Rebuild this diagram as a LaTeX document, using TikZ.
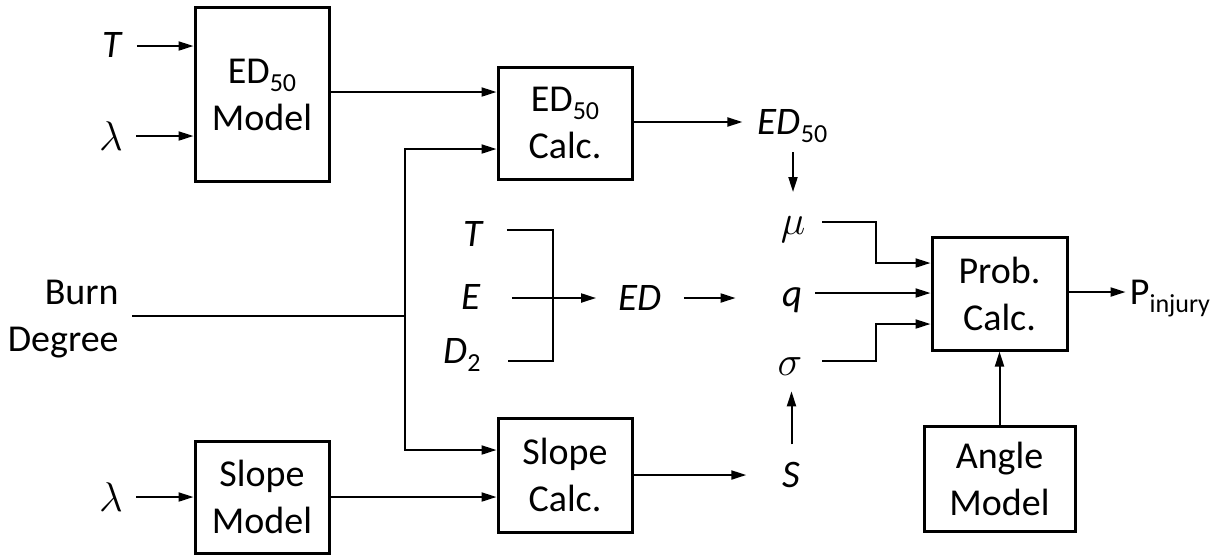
\documentclass[tikz,border=0pt]{standalone}
\usepackage{fontspec}
\setmainfont{Carlito}
\usetikzlibrary{arrows.meta,calc}
\newcommand\mysub[1]{\raisebox{-4pt}{\fontsize{13}{15}\selectfont #1}}
\begin{document}
\begin{tikzpicture}[x=0.5pt,y=-0.5pt,
  font=\fontsize{19}{23.5}\selectfont,
  blk/.style={draw,line width=1.5pt,align=center,inner sep=0pt},
  lbl/.style={inner sep=0pt},
  grk/.style={inner sep=0pt,font=\fontsize{20}{24}\selectfont},
  var/.style={inner sep=0pt,font=\fontsize{19.5}{23.5}\selectfont\itshape},
  ln/.style={line width=1pt},
  arr/.style={line width=1pt,-{Triangle[length=7.5pt,width=4.5pt]}}]
\useasboundingbox (0,0) rectangle (1220,554);

% boxes
\node[blk,minimum width=67pt,minimum height=87pt] (em) at (262,94.5) {ED\mysub{50}\\Model};
\node[blk,minimum width=67pt,minimum height=56pt] (ec) at (565,123) {ED\mysub{50}\\Calc.};
\node[blk,minimum width=67pt,minimum height=56pt] (sm) at (262,497) {Slope\\Model};
\node[blk,minimum width=67pt,minimum height=57pt] (sc) at (565,475) {Slope\\Calc.};
\node[blk,minimum width=67.5pt,minimum height=56.5pt] (pc) at (999.5,293.5) {Prob.\\Calc.};
\node[blk,minimum width=75.5pt,minimum height=52.5pt] (am) at (999.5,478.5) {Angle\\Model};

% labels
\node[var] (T1) at (112,45) {T};
\node[grk] (L1) at (111,136) {$\lambda$};
\node[grk] (L2) at (111,497) {$\lambda$};
\node[lbl,align=right,anchor=east] (bd) at (119,319) {Burn\\Degree};
\node[var] (T2) at (473,233.5) {T};
\node[var] (E) at (471,297) {E};
\node[var] (D2) at (462,355) {D\mysub{\upshape 2}};
\node[var] (ED) at (640,298) {ED};
\node[var] (ED50) at (792.5,126) {ED\mysub{\upshape 50}};
\node[grk] (mu) at (793,230) {$\mu$};
\node[var] (q) at (793,300) {q};
\node[grk] (sg) at (790,367) {$\sigma$};
\node[var] (S) at (791.5,474.5) {S};
\node[lbl] (P) at (1170,299) {P\mysub{injury}};

% coordinates
\coordinate (j) at (405,316);
\coordinate (e1) at (ec.west |- 0,92);
\coordinate (e2) at (ec.west |- 0,149);
\coordinate (s1) at (sc.west |- 0,450);
\coordinate (bk) at (553,298);
\coordinate (kn) at ($(pc.west)+(-55,0)$);
\coordinate (p1) at (pc.west |- 0,263);
\coordinate (p3) at (pc.west |- 0,324);

% connectors
\draw[arr] ($(T1.east |- 0,46)+(15,0)$) -- (em.west |- 0,46);
\draw[arr] ($(L1.east)+(13,0)$) -- (L1.east -| em.west);
\draw[arr] ($(L2.east)+(13,0)$) -- (L2.east -| sm.west);
\draw[ln] ($(bd.east |- j)+(13,0)$) -- (j);
\draw[arr] (em.east |- e1) -- (e1);
\draw[arr] (j) |- (e2);
\draw[arr] (j) |- (s1);
\draw[arr] (sm.east) -- (sm.east -| sc.west);
\draw[ln] ($(T2.east |- 0,230)+(24,0)$) -| (bk) |- ($(D2.east |- 0,361)+(27,0)$);
\draw[arr] ($(E.east |- bk)+(31,0)$) -- ($(ED.west |- bk)+(-22,0)$);
\draw[arr] ($(ED.east |- bk)+(22,0)$) -- ($(q.west |- bk)+(-47,0)$);
\draw[arr] (ec.east |- 0,122) -- ($(ED50.west |- 0,122)+(-15,0)$);
\draw[arr] ($(ED50.south -| mu)+(0,9)$) -- ($(mu.center)+(0,-38)$);
\draw[arr] ($(mu.center)+(29,-8)$) -| (kn |- p1) -- (p1);
\draw[arr] ($(q.center)+(22,-7)$) -- ($(q.center -| pc.west)+(0,-7)$);
\draw[arr] ($(sg.center)+(32,-6)$) -| (kn |- p3) -- (p3);
\draw[arr] (pc.east |- 0,292) -- ($(P.west |- 0,292)+(-4,0)$);
\draw[arr] (am.north) -- (am.north |- pc.south);
\draw[arr] (sc.east) -- ($(sc.east -| S.west)+(-36,0)$);
\draw[arr] ($(S.north)+(0,-17)$) -- ($(sg.south -| S)+(0,15)$);
\end{tikzpicture}
\end{document}
